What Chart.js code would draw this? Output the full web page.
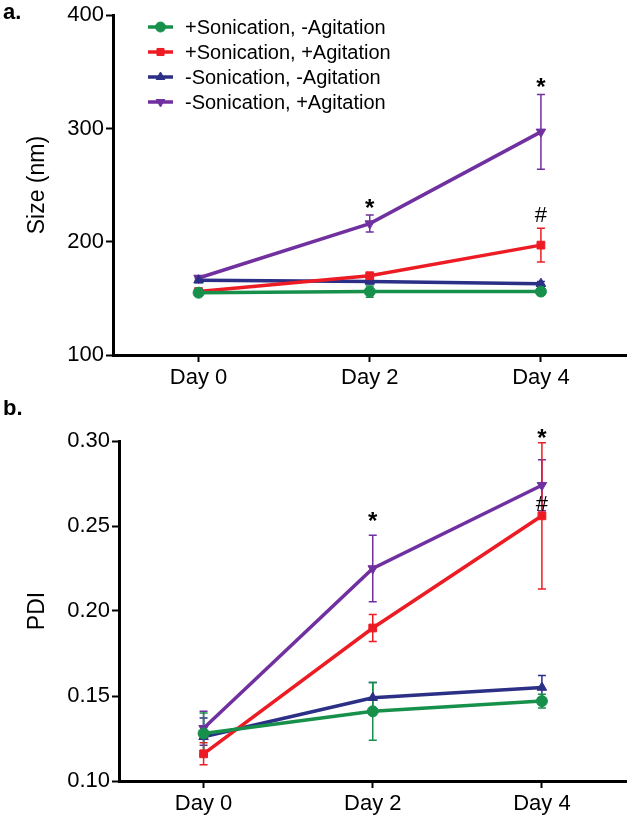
<!DOCTYPE html>
<html lang="en">
<head>
  <meta charset="UTF-8" />
  <title>Size and PDI over time</title>
  <script src="https://cdn.jsdelivr.net/npm/chart.js"></script>
  <style>
    body {
      margin: 0;
      background: #fff;
      font-family: 'Liberation Sans', Arial, sans-serif;
    }
    .panel {
      position: absolute;
      left: 0;
      width: 633px;
    }
    #panelA { top: 0; height: 400px; }
    #panelB { top: 400px; height: 416px; }
  </style>
</head>
<body>
  <div class="panel" id="panelA"><canvas id="sizeChart"></canvas></div>
  <div class="panel" id="panelB"><canvas id="pdiChart"></canvas></div>

  <script>
    const days = ['Day 0', 'Day 2', 'Day 4'];
    const seriesNames = ['+Sonication, -Agitation', '+Sonication, +Agitation', '-Sonication, -Agitation', '-Sonication, +Agitation'];
    const seriesColors = ['#17904b', '#ed1c24', '#2b2f86', '#7030a0'];
    const seriesPoints = ['circle', 'rect', 'triangle', 'triangle'];
    const seriesRotation = [0, 0, 0, 180];

    // panel a - size (nm)
    const sizeSonNoAgit = [155, 156, 156];
    const sizeSonAgit = [156, 170, 197];
    const sizeNoSonNoAgit = [166, 165, 163];
    const sizeNoSonAgit = [168, 216, 297];
    const sizeErrSonNoAgit = [3, 5, 3];
    const sizeErrSonAgit = [2, 2, 15];
    const sizeErrNoSonNoAgit = [2, 2, 2];
    const sizeErrNoSonAgit = [2, 7.5, 33];
    const sizeTicks = [100, 200, 300, 400];
    const sizeMarks = [
      { day: 'Day 2', value: 234, text: '*' },
      { day: 'Day 4', value: 341, text: '*' },
      { day: 'Day 4', value: 224, text: '#' }
    ];

    // panel b - PDI
    const pdiSonNoAgit = [0.128, 0.141, 0.147];
    const pdiSonAgit = [0.116, 0.190, 0.256];
    const pdiNoSonNoAgit = [0.126, 0.149, 0.155];
    const pdiNoSonAgit = [0.131, 0.225, 0.274];
    const pdiErrSonNoAgit = [0.012, 0.017, 0.004];
    const pdiErrSonAgit = [0.0065, 0.008, 0.043];
    const pdiErrNoSonNoAgit = [0.011, 0.009, 0.007];
    const pdiErrNoSonAgit = [0.010, 0.0195, 0.015];
    const pdiTicks = [0.10, 0.15, 0.20, 0.25, 0.30];
    const pdiMarks = [
      { day: 'Day 2', value: 0.2555, text: '*' },
      { day: 'Day 4', value: 0.3047, text: '*' },
      { day: 'Day 4', value: 0.2635, text: '#' }
    ];

    const FONT = "'Liberation Sans', Arial, sans-serif";

    // error bars, drawn under the lines
    const errorBars = {
      id: 'errorBars',
      beforeDatasetsDraw(chart, args, opts) {
        const { ctx, scales: { x, y } } = chart;
        ctx.save();
        ctx.lineWidth = opts.width;
        const sets = chart.data.datasets;
        for (let i = sets.length - 1; i >= 0; i--) {
          const ds = sets[i];
          ctx.strokeStyle = ds.borderColor;
          ds.data.forEach((v, j) => {
            const px = x.getPixelForValue(j);
            const top = y.getPixelForValue(v + ds.errors[j]);
            const bot = y.getPixelForValue(v - ds.errors[j]);
            ctx.beginPath();
            ctx.moveTo(px, top); ctx.lineTo(px, bot);
            ctx.moveTo(px - opts.cap, top); ctx.lineTo(px + opts.cap, top);
            ctx.moveTo(px - opts.cap, bot); ctx.lineTo(px + opts.cap, bot);
            ctx.stroke();
          });
        }
        ctx.restore();
      }
    };

    // significance marks (* and #)
    const sigMarks = {
      id: 'sigMarks',
      afterDatasetsDraw(chart, args, opts) {
        const { ctx, scales: { x, y } } = chart;
        ctx.save();
        ctx.fillStyle = '#000';
        ctx.textAlign = 'center';
        ctx.textBaseline = 'alphabetic';
        opts.marks.forEach(m => {
          ctx.font = m.text === '*' ? opts.starFont : opts.font;
          const px = x.getPixelForValue(days.indexOf(m.day));
          const py = y.getPixelForValue(m.value);
          const mt = ctx.measureText(m.text);
          const shift = (mt.actualBoundingBoxAscent - mt.actualBoundingBoxDescent) / 2;
          ctx.fillText(m.text, px, py + shift);
        });
        ctx.restore();
      }
    };

    // panel letter
    const panelLetter = {
      id: 'panelLetter',
      afterDraw(chart, args, opts) {
        const ctx = chart.ctx;
        ctx.save();
        ctx.fillStyle = '#000';
        ctx.font = 'bold 22px ' + FONT;
        ctx.textBaseline = 'middle';
        ctx.fillText(opts.text, opts.x, opts.y);
        ctx.restore();
      }
    };

    // legend with line + marker, inside the plot
    const lineLegend = {
      id: 'lineLegend',
      afterDraw(chart, args, opts) {
        if (!opts.show) return;
        const ctx = chart.ctx;
        ctx.save();
        ctx.font = opts.font;
        ctx.textBaseline = 'middle';
        chart.data.datasets.forEach((ds, i) => {
          const yy = opts.y + i * opts.rowHeight;
          ctx.strokeStyle = ds.borderColor;
          ctx.lineWidth = 3.5;
          ctx.beginPath();
          ctx.moveTo(opts.x, yy);
          ctx.lineTo(opts.x + opts.lineLength, yy);
          ctx.stroke();
          ctx.fillStyle = ds.borderColor;
          ctx.strokeStyle = ds.borderColor;
          ctx.lineWidth = 1;
          Chart.helpers.drawPoint(ctx, {
            pointStyle: ds.pointStyle,
            radius: 5,
            rotation: ds.rotation || 0,
            borderWidth: 1
          }, opts.x + opts.lineLength / 2, yy);
          ctx.fillStyle = '#000';
          ctx.fillText(ds.label, opts.x + opts.lineLength + opts.gap, yy + 1);
        });
        ctx.restore();
      }
    };

    function buildDatasets(values, errors) {
      return values.map((vals, i) => ({
        label: seriesNames[i],
        data: vals,
        errors: errors[i],
        borderColor: seriesColors[i],
        backgroundColor: seriesColors[i],
        pointBackgroundColor: seriesColors[i],
        pointStyle: seriesPoints[i],
        rotation: seriesRotation[i],
        pointRadius: 5.5,
        pointBorderWidth: 1,
        borderWidth: 3.5,
        tension: 0,
        clip: false
      }));
    }

    function makeChart(id, cfg) {
      return new Chart(document.getElementById(id), {
        type: 'line',
        data: { labels: days, datasets: buildDatasets(cfg.values, cfg.errors) },
        plugins: [errorBars, sigMarks, panelLetter, lineLegend],
        options: {
          responsive: true,
          maintainAspectRatio: false,
          animation: false,
          layout: { padding: cfg.padding },
          plugins: {
            legend: { display: false },
            tooltip: { enabled: false },
            errorBars: { width: 1.5, cap: 4 },
            sigMarks: { marks: cfg.marks, font: '22px ' + FONT, starFont: 'bold 24px ' + FONT },
            panelLetter: cfg.letter,
            lineLegend: cfg.legend
          },
          scales: {
            x: {
              offset: true,
              afterFit: s => { s.height = cfg.xHeight; },
              border: { color: '#000', width: 3 },
              grid: { drawOnChartArea: false, drawTicks: true, tickLength: 7, tickWidth: 2, tickColor: '#000', offset: false },
              ticks: { color: '#000', padding: 3, font: { family: FONT, size: 22 }, maxRotation: 0 }
            },
            y: {
              min: cfg.ticks[0],
              max: cfg.ticks[cfg.ticks.length - 1],
              afterFit: s => { s.width = cfg.yWidth; },
              afterBuildTicks: s => { s.ticks = cfg.ticks.map(v => ({ value: v })); },
              border: { color: '#000', width: 3 },
              grid: { drawOnChartArea: false, drawTicks: true, tickLength: 7, tickWidth: 2, tickColor: '#000' },
              ticks: {
                color: '#000', padding: 2, font: { family: FONT, size: 22 },
                callback: v => cfg.tickFormat(v)
              },
              title: {
                display: true, text: cfg.yTitle, color: '#000',
                font: { family: FONT, size: 23 }, padding: { top: 24, bottom: 0 }
              }
            }
          }
        }
      });
    }

    makeChart('sizeChart', {
      values: [sizeSonNoAgit, sizeSonAgit, sizeNoSonNoAgit, sizeNoSonAgit],
      errors: [sizeErrSonNoAgit, sizeErrSonAgit, sizeErrNoSonNoAgit, sizeErrNoSonAgit],
      ticks: sizeTicks,
      tickFormat: v => String(v),
      marks: sizeMarks,
      yTitle: 'Size (nm)',
      yWidth: 113,
      xHeight: 45,
      padding: { top: 12, right: 1, bottom: 0, left: 0 },
      letter: { text: 'a.', x: 3, y: 13 },
      legend: { show: true, x: 148, y: 27, rowHeight: 25, lineLength: 25, gap: 12, font: '20px ' + FONT }
    });

    makeChart('pdiChart', {
      values: [pdiSonNoAgit, pdiSonAgit, pdiNoSonNoAgit, pdiNoSonAgit],
      errors: [pdiErrSonNoAgit, pdiErrSonAgit, pdiErrNoSonNoAgit, pdiErrNoSonAgit],
      ticks: pdiTicks,
      tickFormat: v => v.toFixed(2),
      marks: pdiMarks,
      yTitle: 'PDI',
      yWidth: 119,
      xHeight: 35,
      padding: { top: 41, right: 6, bottom: 0, left: 0 },
      letter: { text: 'b.', x: 3, y: 9 },
      legend: { show: false }
    });
  </script>
</body>
</html>
